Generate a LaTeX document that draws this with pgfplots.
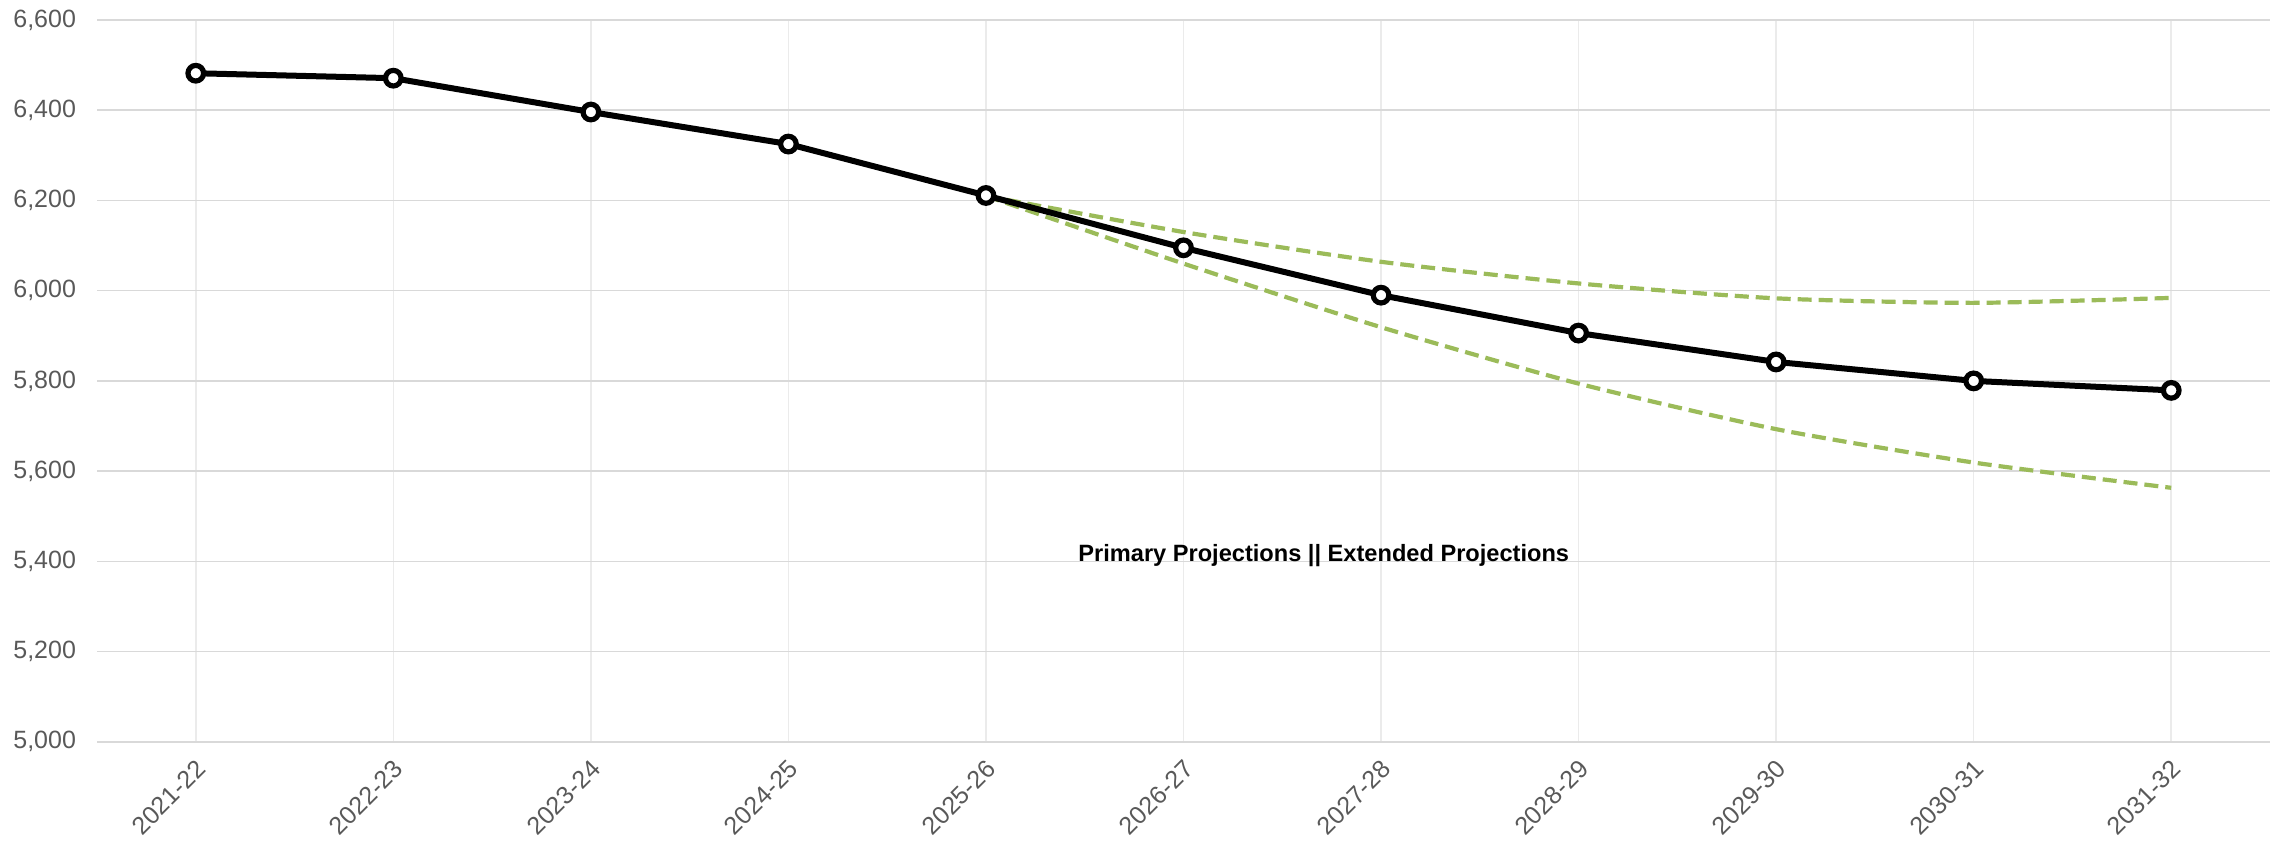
\documentclass[border=0pt]{standalone}
\usepackage{graphicx}
\usepackage{fontspec}
\setmainfont{Liberation Sans}
\usepackage{pgfplots}
\pgfplotsset{compat=1.18}
\definecolor{projgreen}{HTML}{9BBB59}
\definecolor{ticktext}{HTML}{595959}
\begin{document}
\begin{tikzpicture}
\path[use as bounding box] (-48.5pt,-49.2pt) rectangle (1090.5pt,370.9pt);
\begin{axis}[
  scale only axis,
  width=1086.5pt, height=360.9pt,
  xmin=-0.5, xmax=10.5,
  ymin=5000, ymax=6600,
  xtick={0,1,2,3,4,5,6,7,8,9,10},
  xticklabels={2021-22,2022-23,2023-24,2024-25,2025-26,2026-27,2027-28,2028-29,2029-30,2030-31,2031-32},
  ytick={5000,5200,5400,5600,5800,6000,6200,6400,6600},
  /pgf/number format/assume math mode=true,
  /pgf/number format/1000 sep={,},
  axis line style={draw=none},
  major tick length=0pt,
  grid=major,
  major x grid style={color=black!8, line width=0.75pt},
  major y grid style={color=black!15, line width=0.75pt},
  tick label style={font=\fontsize{12.5}{14}\selectfont, text=ticktext},
  yticklabel style={xshift=-7pt},
  xticklabel style={xshift=-0.5pt, yshift=-3.5pt, rotate=45, anchor=north east},
  clip=false,
]
\addplot[projgreen, line width=2.1pt, dash pattern=on 7pt off 3.5pt, smooth, tension=0.4] coordinates {
 (4,6210) (5,6130) (6,6064) (7,6016) (8,5983) (9,5973) (10,5984)
};
\addplot[projgreen, line width=2.1pt, dash pattern=on 7pt off 3.5pt, smooth, tension=0.4] coordinates {
 (4,6210) (5,6060) (6,5919) (7,5794) (8,5693) (9,5619) (10,5563)
};
\addplot[black, line width=3pt, mark=*, mark size=3.9pt, mark options={fill=white, draw=black, line width=2.6pt, solid}] coordinates {
 (0,6482) (1,6471) (2,6396) (3,6325) (4,6211) (5,6095) (6,5990) (7,5906) (8,5842) (9,5800) (10,5779)
};
\node[anchor=base, font=\bfseries\fontsize{11.8}{13}\selectfont] at (axis cs:5.71,5400) {Primary Projections || Extended Projections};
\end{axis}
\end{tikzpicture}
\end{document}
